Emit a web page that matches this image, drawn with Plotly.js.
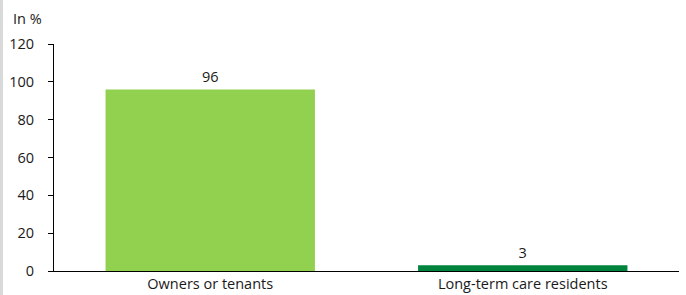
<!DOCTYPE html>
<html>
<head>
<meta charset="utf-8">
<script src="https://cdn.plot.ly/plotly-3.0.1.min.js"></script>
<style>
html,body{margin:0;padding:0;background:#fff;}
#strip{position:absolute;left:0;top:0;width:3px;height:295px;background:#d9d9d9;}
#chart{position:absolute;left:0;top:0;width:686px;height:295px;}
</style>
</head>
<body>
<div id="strip"></div>
<div id="chart"></div>
<script>
const categories = ["Owners or tenants", "Long-term care residents"];
const values = [96, 3];
const barColors = ["#92d050", "#00843d"];
const yTicks = [0, 20, 40, 60, 80, 100, 120];

const font = {family: "Open Sans, sans-serif", size: 14.5, color: "#1a1a1a"};

Plotly.newPlot("chart", [{
  type: "bar",
  x: categories,
  y: values,
  marker: {color: barColors},
  text: values.map(String),
  textposition: "outside",
  textfont: font,
  cliponaxis: false,
  hoverinfo: "none"
}], {
  width: 686, height: 295,
  margin: {l: 54, r: 7, t: 44, b: 24},
  paper_bgcolor: "rgba(0,0,0,0)",
  plot_bgcolor: "rgba(0,0,0,0)",
  font: font,
  bargap: 0.33,
  showlegend: false,
  xaxis: {
    showline: true, linecolor: "#000", linewidth: 1,
    ticks: "", showgrid: false, zeroline: false,
    tickfont: font
  },
  yaxis: {
    range: [0, 120], tickvals: yTicks, ticktext: yTicks.map(String),
    showline: true, linecolor: "#000", linewidth: 1,
    ticks: "outside", ticklen: 5, tickcolor: "#000",
    showgrid: false, zeroline: false,
    ticklabelstandoff: 11,
    tickfont: font
  },
  annotations: [{
    text: "In %", xref: "paper", yref: "paper",
    x: -54/625 + 11/625, y: 1 + 26/227, xanchor: "left", yanchor: "middle",
    showarrow: false, font: font
  }]
}, {staticPlot: true});
</script>
</body>
</html>
